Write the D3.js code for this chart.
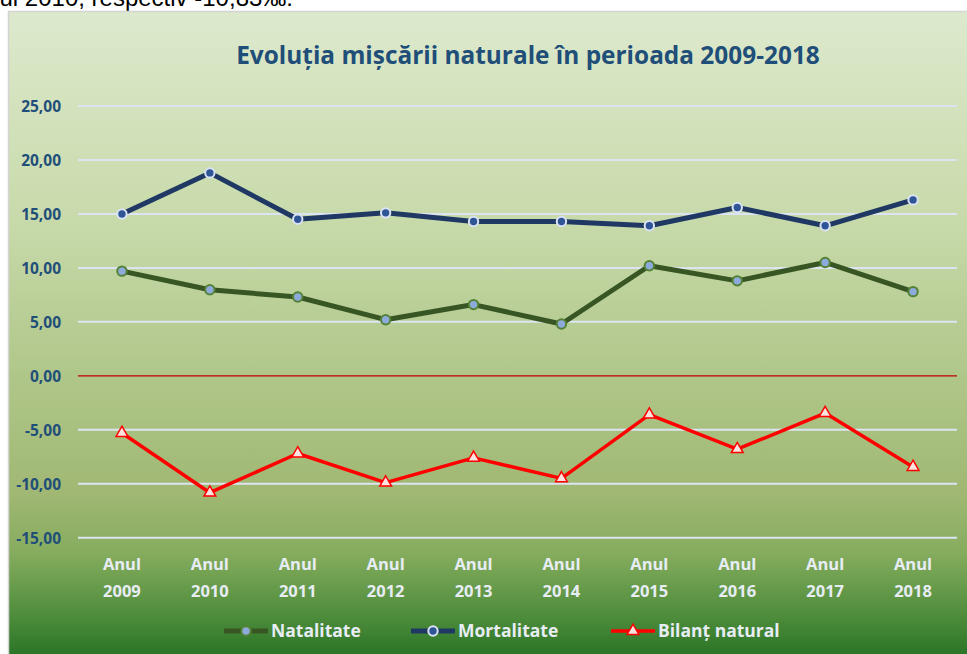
<!DOCTYPE html>
<html><head><meta charset="utf-8">
<script src="https://cdn.jsdelivr.net/npm/d3@7"></script>
<style>html,body{margin:0;padding:0;background:#fff;overflow:hidden}</style>
</head><body>
<svg id="c" width="967" height="654"></svg>
<script>
const years = ["2009","2010","2011","2012","2013","2014","2015","2016","2017","2018"];
const categories = years.map(y => ["Anul", y]);
const natalitate = [9.7, 7.97, 7.3, 5.2, 6.6, 4.8, 10.2, 8.8, 10.5, 7.8];
const mortalitate = [15.0, 18.8, 14.5, 15.1, 14.3, 14.3, 13.9, 15.6, 13.9, 16.3];
const bilant = [-5.3, -10.83, -7.2, -9.9, -7.6, -9.5, -3.6, -6.8, -3.45, -8.45];
const yTicks = [-15, -10, -5, 0, 5, 10, 15, 20, 25];
const seriesNames = ["Natalitate", "Mortalitate", "Bilanț natural"];
const titleText = "Evoluția mișcării naturale în perioada 2009-2018";
const topText = "anul 2010, respectiv -10,83‰.";

const svg = d3.select("#c");
const defs = svg.append("defs");
const grad = defs.append("linearGradient").attr("id","bg").attr("x1",0).attr("y1",0).attr("x2",0).attr("y2",1);
[[0,"#dde9cd"],[0.3,"#c9dbac"],[0.57,"#aec587"],[0.73,"#a0b873"],[0.82,"#86ac5e"],[0.92,"#4b8b3a"],[1,"#1c6a1d"]]
  .forEach(([o,c]) => grad.append("stop").attr("offset",o).attr("stop-color",c));

// top cropped paragraph text
svg.append("text").attr("x", 293).attr("y", 6).attr("text-anchor","end")
  .attr("font-family","Liberation Sans, Arial, sans-serif").attr("font-size",24).attr("fill","#000")
  .text(topText);

// chart box
svg.append("rect").attr("x",8.5).attr("y",11.5).attr("width",970).attr("height",660)
  .attr("fill","url(#bg)").attr("stroke","#d4d4d4").attr("stroke-width",1.5);

const x = d3.scalePoint().domain(years).range([78, 957]).padding(0.5);
const y = d3.scaleLinear().domain([-15, 25]).range([537.7, 106]);

// gridlines
svg.append("g").selectAll("line").data(yTicks).join("line")
  .attr("x1", 78).attr("x2", 957)
  .attr("y1", d => y(d)).attr("y2", d => y(d))
  .attr("stroke", d => d === 0 ? "#c00000" : "#dce4f2")
  .attr("stroke-width", d => d === 0 ? 1.2 : 2);

// y axis labels
const yAxis = d3.axisLeft(y).tickValues(yTicks).tickSize(0).tickPadding(0)
  .tickFormat(d => d3.format(".2f")(d).replace(".", ",").replace("−","-"));
const ya = svg.append("g").attr("transform","translate(61,0)").call(yAxis);
ya.select(".domain").remove();
ya.selectAll("text").attr("font-family","Open Sans, sans-serif").attr("font-weight",700)
  .attr("font-size",15.5).attr("fill","#1f4e79").attr("dy","0.35em");

// x labels
const xl = svg.append("g");
categories.forEach((c, i) => {
  const t = xl.append("text").attr("x", x(years[i])).attr("text-anchor","middle")
    .attr("font-family","Open Sans, sans-serif").attr("font-weight",700).attr("font-size",16.5)
    .attr("fill","#e8edf5");
  t.append("tspan").attr("x", x(years[i])).attr("y", 569.5).text(c[0]);
  t.append("tspan").attr("x", x(years[i])).attr("y", 596.5).text(c[1]);
});

const line = d3.line().x((d,i) => x(years[i])).y(d => y(d));

// series
const styles = [
  {data: natalitate, stroke:"#375623", w:5, marker:"circle", fill:"#8eaadb", mstroke:"#548235", mw:2},
  {data: mortalitate, stroke:"#1f3864", w:5, marker:"circle", fill:"#2f5597", mstroke:"#dae3f3", mw:2},
  {data: bilant, stroke:"#ff0000", w:3.5, marker:"triangle", fill:"#fde3df", mstroke:"#ff0000", mw:1.5}
];
const tri = d3.symbol().type(d3.symbolTriangle).size(60);
styles.forEach(s => {
  svg.append("path").datum(s.data).attr("d", line).attr("fill","none")
    .attr("stroke", s.stroke).attr("stroke-width", s.w).attr("stroke-linejoin","round");
});
styles.forEach(s => {
  const g = svg.append("g");
  if (s.marker === "circle") {
    g.selectAll("circle").data(s.data).join("circle")
      .attr("cx",(d,i)=>x(years[i])).attr("cy",d=>y(d)).attr("r",4.7)
      .attr("fill",s.fill).attr("stroke",s.mstroke).attr("stroke-width",s.mw);
  } else {
    g.selectAll("path").data(s.data).join("path")
      .attr("d", tri).attr("transform",(d,i)=>`translate(${x(years[i])},${y(d)})`)
      .attr("fill",s.fill).attr("stroke",s.mstroke).attr("stroke-width",s.mw);
  }
});

// title
const title = svg.append("text").attr("x", 528).attr("y", 64).attr("text-anchor","middle")
  .attr("font-family","Open Sans, sans-serif").attr("font-weight",700).attr("font-size",20)
  .attr("fill","#1f4e79").text(titleText);
const tw = title.node().getComputedTextLength();
if (tw > 0) title.attr("font-size", 20 * 584 / tw);

// legend
const legX = [224, 411, 611];
const legY = 631;
styles.forEach((s, i) => {
  const g = svg.append("g");
  g.append("line").attr("x1", legX[i]).attr("x2", legX[i] + 44).attr("y1", legY).attr("y2", legY)
    .attr("stroke", s.stroke).attr("stroke-width", s.w);
  if (s.marker === "circle") {
    g.append("circle").attr("cx", legX[i] + 22).attr("cy", legY).attr("r", 4.7)
      .attr("fill", s.fill).attr("stroke", s.mstroke).attr("stroke-width", s.mw);
  } else {
    g.append("path").attr("d", tri).attr("transform", `translate(${legX[i] + 22},${legY})`)
      .attr("fill", s.fill).attr("stroke", s.mstroke).attr("stroke-width", s.mw);
  }
  g.append("text").attr("x", legX[i] + 47).attr("y", legY).attr("dy","0.36em")
    .attr("font-family","Open Sans, sans-serif").attr("font-weight",700).attr("font-size",17.5)
    .attr("fill","#e8edf5").text(seriesNames[i]);
});
</script>
</body></html>
